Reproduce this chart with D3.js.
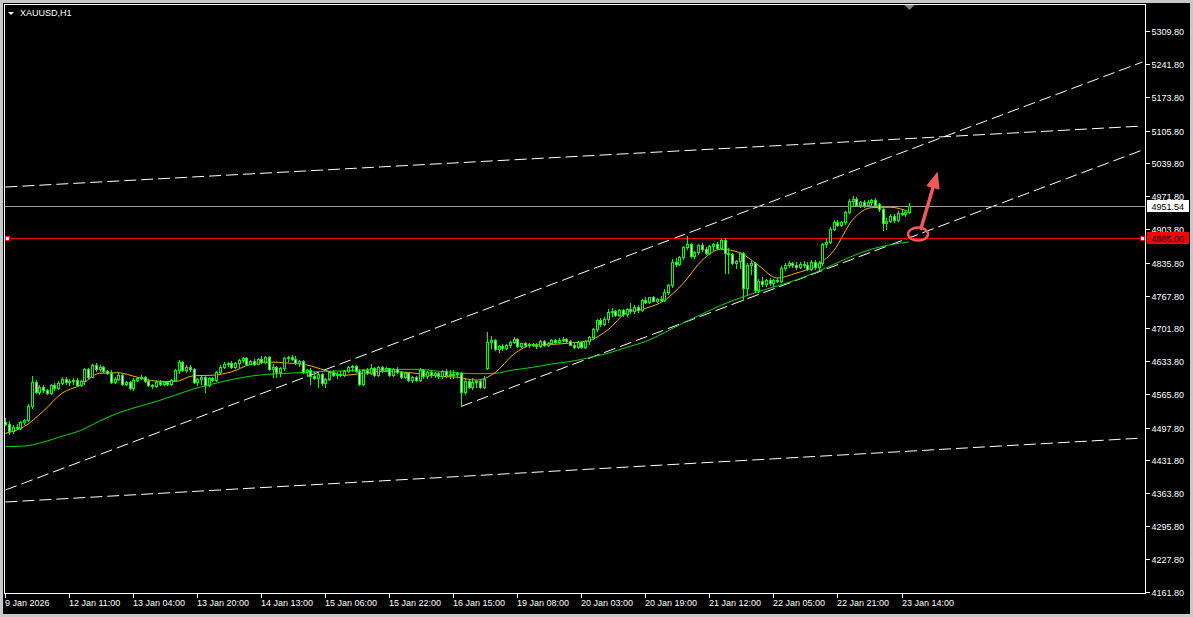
<!DOCTYPE html>
<html>
<head>
<meta charset="utf-8">
<style>
  body { margin: 0; background: #c8c8c8; }
  svg { display: block; }
  text { font-family: "Liberation Sans", Arial, sans-serif; font-size: 9px; fill: #fff; }
</style>
</head>
<body>
<script src="https://d3js.org/d3.v7.min.js"></script>
<svg id="chart" width="1193" height="617"></svg>
<script>
// ---- data ----
const symbol = "XAUUSD,H1";
const timeLabels = ["9 Jan 2026", "12 Jan 11:00", "13 Jan 04:00", "13 Jan 20:00", "14 Jan 13:00",
  "15 Jan 06:00", "15 Jan 22:00", "16 Jan 15:00", "19 Jan 08:00", "20 Jan 03:00",
  "20 Jan 19:00", "21 Jan 12:00", "22 Jan 05:00", "22 Jan 21:00", "23 Jan 14:00"];
const barsPerLabel = 17;
const priceTicks = [4161.8, 4227.8, 4295.8, 4363.8, 4431.8, 4497.8, 4565.8, 4633.8, 4701.8,
  4767.8, 4835.8, 4903.8, 4971.8, 5039.8, 5105.8, 5173.8, 5241.8, 5309.8];

// hourly candles: [open, high, low, close]
const candles = [
  [4510,4517,4503,4506],[4506,4512,4484,4490],[4490,4503,4486,4499],[4499,4506,4494,4496],[4496,4512,4494,4509],
  [4509,4516,4506,4513],[4513,4546,4511,4542],[4542,4603,4538,4592],[4592,4596,4568,4571],[4571,4586,4566,4581],
  [4581,4585,4571,4574],[4574,4577,4566,4569],[4569,4588,4566,4585],[4585,4590,4575,4578],[4578,4593,4576,4590],
  [4590,4601,4587,4598],[4598,4602,4588,4591],[4591,4597,4586,4594],[4594,4600,4587,4596],[4596,4599,4583,4585],
  [4585,4596,4583,4593],[4593,4620,4588,4617],[4617,4619,4599,4602],[4602,4629,4601,4626],[4626,4631,4614,4617],
  [4617,4626,4614,4622],[4622,4624,4611,4614],[4614,4616,4607,4610],[4610,4615,4589,4592],[4592,4601,4589,4598],
  [4598,4609,4596,4606],[4606,4608,4585,4588],[4588,4594,4584,4591],[4591,4593,4576,4578],[4578,4599,4575,4596],
  [4596,4602,4593,4599],[4599,4605,4597,4602],[4602,4604,4592,4594],[4594,4598,4583,4585],[4585,4588,4579,4582],
  [4582,4595,4580,4592],[4592,4596,4585,4588],[4588,4594,4586,4591],[4591,4594,4585,4588],[4588,4597,4586,4595],
  [4595,4618,4594,4615],[4615,4636,4610,4633],[4633,4634,4613,4616],[4616,4626,4612,4622],[4622,4625,4614,4617],
  [4617,4620,4589,4592],[4592,4600,4584,4597],[4597,4604,4588,4601],[4601,4603,4571,4585],[4585,4602,4583,4599],
  [4599,4601,4594,4596],[4596,4614,4594,4612],[4612,4625,4610,4622],[4622,4632,4619,4629],[4629,4633,4624,4631],
  [4631,4635,4620,4622],[4622,4633,4619,4630],[4630,4639,4620,4636],[4636,4643,4633,4640],[4640,4642,4626,4628],
  [4628,4637,4627,4635],[4635,4639,4626,4628],[4628,4641,4627,4639],[4639,4645,4630,4632],[4632,4645,4630,4642],
  [4642,4644,4615,4617],[4617,4628,4602,4621],[4621,4624,4602,4612],[4612,4622,4603,4619],[4619,4642,4615,4640],
  [4640,4645,4634,4643],[4643,4646,4636,4638],[4638,4644,4629,4631],[4631,4637,4624,4635],[4635,4637,4610,4612],
  [4612,4618,4603,4616],[4616,4619,4587,4603],[4603,4611,4597,4600],[4600,4610,4581,4608],[4608,4610,4586,4590],
  [4590,4600,4581,4598],[4598,4614,4596,4612],[4612,4616,4603,4605],[4605,4611,4600,4608],[4608,4613,4603,4606],
  [4606,4616,4604,4614],[4614,4623,4611,4621],[4621,4626,4613,4623],[4623,4625,4612,4614],[4614,4617,4586,4588],
  [4588,4618,4585,4616],[4616,4619,4607,4610],[4610,4628,4608,4619],[4619,4621,4603,4606],[4606,4624,4604,4622],
  [4622,4624,4612,4615],[4615,4621,4613,4619],[4619,4620,4603,4605],[4605,4619,4603,4617],[4617,4622,4609,4611],
  [4611,4614,4600,4602],[4602,4612,4599,4609],[4609,4611,4593,4595],[4595,4604,4592,4601],[4601,4603,4594,4596],
  [4596,4619,4594,4616],[4616,4618,4600,4603],[4603,4614,4600,4612],[4612,4614,4602,4605],[4605,4611,4602,4609],
  [4609,4611,4600,4603],[4603,4616,4600,4614],[4614,4618,4602,4605],[4605,4616,4600,4608],[4608,4616,4599,4607],
  [4607,4612,4601,4609],[4609,4612,4541,4571],[4571,4597,4566,4593],[4593,4596,4578,4580],[4580,4600,4577,4591],
  [4591,4596,4580,4594],[4594,4597,4578,4581],[4581,4603,4579,4598],[4620,4694,4618,4674],[4674,4685,4661,4677],
  [4677,4679,4656,4658],[4658,4666,4653,4664],[4664,4668,4657,4660],[4660,4668,4658,4666],[4666,4676,4662,4673],
  [4673,4683,4670,4680],[4680,4682,4663,4665],[4665,4672,4662,4670],[4670,4673,4663,4666],[4666,4672,4663,4669],
  [4669,4672,4664,4666],[4666,4671,4661,4664],[4664,4678,4662,4676],[4676,4678,4665,4667],[4667,4673,4664,4671],
  [4671,4680,4668,4677],[4677,4679,4671,4673],[4673,4681,4671,4678],[4678,4684,4675,4680],[4680,4682,4673,4675],
  [4675,4677,4666,4667],[4667,4671,4660,4663],[4663,4676,4660,4673],[4673,4675,4660,4663],[4663,4678,4661,4675],
  [4675,4686,4668,4683],[4683,4702,4680,4699],[4699,4720,4696,4718],[4718,4722,4706,4709],[4709,4724,4707,4721],
  [4721,4740,4713,4735],[4735,4742,4727,4737],[4737,4739,4726,4728],[4728,4740,4726,4738],[4738,4740,4727,4730],
  [4730,4742,4727,4740],[4740,4752,4733,4736],[4736,4749,4733,4745],[4745,4748,4735,4739],[4739,4761,4736,4759],
  [4759,4765,4752,4755],[4755,4766,4752,4765],[4765,4768,4756,4758],[4758,4764,4754,4762],[4762,4768,4757,4760],
  [4760,4781,4758,4776],[4776,4792,4772,4789],[4789,4842,4786,4837],[4837,4845,4828,4832],[4832,4850,4830,4847],
  [4847,4870,4844,4867],[4867,4890,4864,4873],[4873,4876,4847,4849],[4849,4860,4845,4857],[4857,4874,4853,4871],
  [4871,4875,4860,4863],[4863,4868,4853,4856],[4856,4872,4854,4869],[4869,4876,4861,4874],[4874,4877,4863,4866],
  [4866,4884,4864,4881],[4881,4885,4814,4855],[4855,4866,4815,4853],[4853,4856,4832,4834],[4834,4841,4825,4838],
  [4838,4858,4825,4855],[4855,4858,4759,4783],[4783,4834,4770,4830],[4830,4838,4812,4834],[4834,4837,4776,4780],
  [4780,4803,4776,4798],[4798,4806,4788,4792],[4792,4802,4788,4799],[4799,4804,4790,4794],[4794,4802,4788,4800],
  [4800,4804,4795,4798],[4798,4828,4795,4824],[4824,4834,4821,4830],[4830,4838,4826,4834],[4834,4837,4827,4830],
  [4830,4836,4823,4826],[4826,4836,4824,4833],[4833,4838,4827,4830],[4830,4836,4820,4823],[4823,4840,4821,4836],
  [4836,4840,4822,4826],[4826,4838,4820,4834],[4834,4876,4830,4873],[4873,4884,4868,4878],[4878,4908,4875,4905],
  [4905,4922,4903,4918],[4918,4922,4910,4913],[4913,4921,4910,4918],[4918,4942,4915,4939],[4939,4965,4937,4961],
  [4961,4971,4952,4966],[4966,4969,4952,4954],[4954,4962,4950,4959],[4959,4963,4949,4953],[4953,4963,4951,4960],
  [4960,4966,4953,4963],[4963,4967,4951,4953],[4955,4957,4942,4945],[4945,4948,4902,4916],[4916,4927,4905,4921],
  [4921,4936,4918,4932],[4932,4935,4918,4922],[4922,4942,4920,4938],[4938,4943,4933,4936],[4936,4944,4932,4940],
  [4940,4958,4937,4951.54]
];

// moving averages, read every 5 bars
const maBars = d3.range(0, 241, 5);
const maFast = [4486, 4500, 4531, 4568, 4585, 4609, 4610, 4601, 4593, 4592, 4604, 4605, 4612, 4627, 4632, 4630,
  4626, 4615, 4605, 4609, 4613, 4612, 4608, 4603, 4601, 4595, 4610, 4648, 4667, 4668, 4671, 4676, 4698, 4733,
  4742, 4758, 4793, 4840, 4863, 4856, 4830, 4804, 4814, 4828, 4860, 4923, 4948, 4949, 4940];
const maSlow = [4459, 4460, 4468, 4480, 4492, 4511, 4528, 4540, 4551, 4564, 4577, 4587, 4596, 4603, 4607, 4609,
  4611, 4613, 4614, 4616, 4617, 4617, 4617, 4613, 4610, 4608, 4609, 4616, 4621, 4628, 4633, 4641, 4650, 4662,
  4674, 4692, 4712, 4730, 4748, 4763, 4776, 4788, 4800, 4815, 4832, 4849, 4863, 4872, 4878];

const bidPrice = 4951.54;
const levelPrice = 4885.00;

// dashed trend lines: [bar, price] -> [bar, price]
const trendLines = [
  { from: [0, 4370.0], to: [302, 5246.3] },
  { from: [121, 4541.0], to: [302, 5066.1] },
  { from: [0, 4990.3], to: [302, 5115.2] },
  { from: [0, 4345.4], to: [302, 4476.4] }
];
// hand drawn mark: ellipse and arrow, in [bar, price]
const markCircle = [242.4, 4894];
const markArrow = { from: [243.2, 4906], to: [247.6, 5022] };

// ---- layout ----
const frame = { left: 4.5, top: 4.5, right: 1145.5, bottom: 593.5 };
const x = d3.scaleLinear().domain([0, 238]).range([5.4, 901.5]);
const y = d3.scaleLinear().domain([4161.8, 5309.8]).range([591.7, 31]);

const svg = d3.select("#chart");
svg.append("rect").attr("x", 3).attr("y", 3).attr("width", 1187).attr("height", 611).attr("fill", "#000");

svg.append("clipPath").attr("id", "plot")
  .append("rect")
  .attr("x", frame.left).attr("y", frame.top)
  .attr("width", frame.right - frame.left).attr("height", frame.bottom - frame.top);
const plot = svg.append("g").attr("clip-path", "url(#plot)");

// dashed lines
plot.selectAll("line.trend")
  .data(trendLines)
  .enter()
  .append("line")
  .attr("class", "trend")
  .attr("x1", d => x(d.from[0])).attr("y1", d => y(d.from[1]))
  .attr("x2", d => x(d.to[0])).attr("y2", d => y(d.to[1]))
  .style("stroke", "#fff")
  .style("stroke-width", "1px")
  .style("stroke-dasharray", "12,5");

// bid and level lines
plot.append("line")
  .attr("x1", frame.left).attr("x2", frame.right)
  .attr("y1", Math.round(y(bidPrice)) + 0.5).attr("y2", Math.round(y(bidPrice)) + 0.5)
  .style("stroke", "#a0a0a0");
plot.append("line")
  .attr("x1", frame.left).attr("x2", frame.right)
  .attr("y1", Math.round(y(levelPrice)) + 0.5).attr("y2", Math.round(y(levelPrice)) + 0.5)
  .style("stroke", "#ff0000");

// moving averages
const maLine = d3.line().x((d, i) => x(maBars[i])).y(d => y(d)).curve(d3.curveMonotoneX);
plot.append("path").attr("d", maLine(maSlow))
  .style("fill", "none").style("stroke", "#00dc00").style("stroke-width", "1px");
plot.append("path").attr("d", maLine(maFast))
  .style("fill", "none").style("stroke", "#f5b400").style("stroke-width", "1px");

// candles
plot.selectAll("g.candle")
  .data(candles)
  .enter()
  .append("g")
  .attr("class", "candle")
  .style("shape-rendering", "crispEdges")
  .each(function(d, i) {
    const cx = Math.round(x(i));
    const top = Math.round(y(Math.max(d[0], d[3])));
    const bot = Math.round(y(Math.min(d[0], d[3])));
    const g = d3.select(this);
    g.append("line")
      .attr("x1", cx + 0.5).attr("x2", cx + 0.5)
      .attr("y1", Math.round(y(d[1]))).attr("y2", Math.round(y(d[2])) + 1)
      .style("stroke", "#00ff00");
    g.append("rect")
      .attr("x", cx - 0.5).attr("y", top + 0.5)
      .attr("width", 2).attr("height", Math.max(bot - top, 1))
      .style("fill", d[3] >= d[0] ? "#000" : "#fff")
      .style("stroke", "#00ff00");
  });

// red hand drawn mark
const markColor = "#f25a5a";
plot.append("ellipse")
  .attr("cx", x(markCircle[0])).attr("cy", y(markCircle[1]))
  .attr("rx", 10).attr("ry", 6.5)
  .style("fill", "none").style("stroke", markColor).style("stroke-width", "2.5px");
{
  const x1 = x(markArrow.from[0]), y1 = y(markArrow.from[1]);
  const x2 = x(markArrow.to[0]), y2 = y(markArrow.to[1]);
  const ang = Math.atan2(y2 - y1, x2 - x1);
  const headLen = 17, headW = 7;
  const bx = x2 - headLen * Math.cos(ang), by = y2 - headLen * Math.sin(ang);
  const nx = -Math.sin(ang), ny = Math.cos(ang);
  plot.append("line")
    .attr("x1", x1).attr("y1", y1).attr("x2", bx).attr("y2", by)
    .style("stroke", markColor).style("stroke-width", "3.5px").style("stroke-linecap", "round");
  plot.append("path")
    .attr("d", `M${x2},${y2}L${bx + nx * headW},${by + ny * headW}L${bx - nx * headW},${by - ny * headW}Z`)
    .style("fill", markColor);
}

// level line handles
[frame.left + 2.5, frame.right - 3].forEach(hx => {
  svg.append("rect")
    .attr("x", hx - 2).attr("y", Math.round(y(levelPrice)) - 1.5)
    .attr("width", 4).attr("height", 4)
    .style("fill", "#fff").style("stroke", "#ff0000").style("shape-rendering", "crispEdges");
});

// frame
svg.append("rect")
  .attr("x", frame.left).attr("y", frame.top)
  .attr("width", frame.right - frame.left).attr("height", frame.bottom - frame.top)
  .style("fill", "none").style("stroke", "#fff").style("shape-rendering", "crispEdges");

// price axis
const yAxis = svg.append("g").style("shape-rendering", "crispEdges");
priceTicks.forEach(p => {
  const ty = Math.round(y(p)) + 0.5;
  yAxis.append("line").attr("x1", frame.right).attr("x2", frame.right + 4).attr("y1", ty).attr("y2", ty)
    .style("stroke", "#fff");
  yAxis.append("text").attr("x", frame.right + 6).attr("y", ty + 3.5).text(p.toFixed(2));
});

// price labels on the axis
function axisLabel(price, bg, fg) {
  const ty = Math.round(y(price));
  svg.append("rect")
    .attr("x", frame.right + 1).attr("y", ty - 6)
    .attr("width", 42).attr("height", 12)
    .style("fill", bg).style("shape-rendering", "crispEdges");
  svg.append("text").attr("x", frame.right + 6).attr("y", ty + 3.5)
    .style("fill", fg).text(price.toFixed(2));
}
axisLabel(bidPrice, "#fff", "#000");
axisLabel(levelPrice, "#ff0000", "#000");

// time axis
const xAxis = svg.append("g").style("shape-rendering", "crispEdges");
timeLabels.forEach((t, k) => {
  const tx = Math.round(x(k * barsPerLabel)) + 0.5;
  xAxis.append("line").attr("x1", tx).attr("x2", tx).attr("y1", frame.bottom).attr("y2", frame.bottom + 4)
    .style("stroke", "#fff");
  xAxis.append("text").attr("x", tx - 0.5).attr("y", 606).text(t);
});

// symbol caption and shift marker
svg.append("path").attr("d", "M8,12L14,12L11,15Z").style("fill", "#fff");
svg.append("text").attr("x", 20).attr("y", 16).text(symbol);
svg.append("path").attr("d", `M${x(240) + 0.5},10L${x(240) - 4.5},5L${x(240) + 5.5},5Z`).style("fill", "#808080");
</script>
</body>
</html>
